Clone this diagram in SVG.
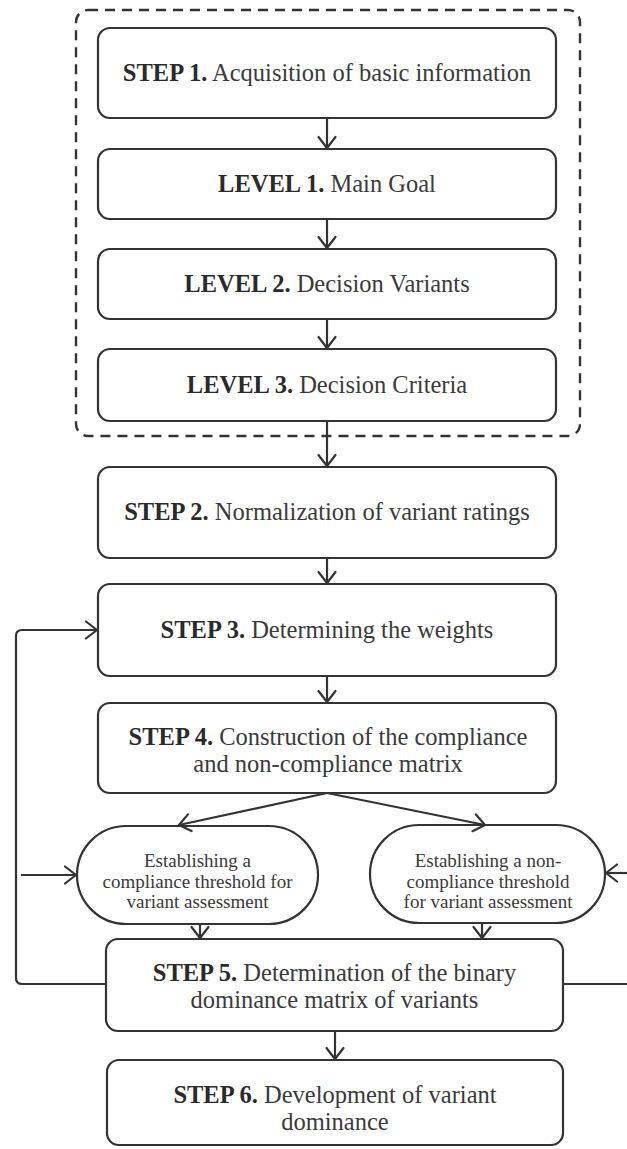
<svg xmlns="http://www.w3.org/2000/svg" width="627" height="1149" viewBox="0 0 627 1149">
<style>
.box{fill:#fff;stroke:#333;stroke-width:2.2}
.dash{fill:none;stroke:#333;stroke-width:2.4;stroke-dasharray:10 7}
.t{font-family:"Liberation Serif","Times New Roman",serif;font-size:24.5px;fill:#3a3a3a;text-anchor:middle}
.s{font-family:"Liberation Serif","Times New Roman",serif;font-size:19px;fill:#3a3a3a;text-anchor:middle}
.b{font-weight:bold;fill:#2a2a2a}
.c{fill:none;stroke:#333;stroke-width:2.2;stroke-linejoin:round}
</style>
<defs>
<marker id="arr" markerUnits="userSpaceOnUse" markerWidth="30" markerHeight="30" viewBox="-15 -15 30 30" refX="0" refY="0" orient="auto" overflow="visible">
<path d="M-11,-8.5 L0,0 L-11,8.5" fill="none" stroke="#333" stroke-width="2.2" stroke-linecap="round" stroke-linejoin="round"/>
</marker>
</defs>
<rect width="627" height="1149" fill="#fff"/>
<g id="group-basic">
<rect class="dash" x="76" y="10" width="504" height="426" rx="12"/>
</g>
<g id="step1"><rect class="box" x="98" y="28" width="458" height="90" rx="12"/>
<text class="t" x="327" y="81"><tspan class="b">STEP 1.</tspan> Acquisition of basic information</text></g>
<g id="level1"><rect class="box" x="98" y="149" width="458" height="70" rx="12"/>
<text class="t" x="327" y="192"><tspan class="b">LEVEL 1.</tspan> Main Goal</text></g>
<g id="level2"><rect class="box" x="98" y="249" width="458" height="70" rx="12"/>
<text class="t" x="327" y="292"><tspan class="b">LEVEL 2.</tspan> Decision Variants</text></g>
<g id="level3"><rect class="box" x="98" y="349" width="458" height="72" rx="12"/>
<text class="t" x="327" y="393"><tspan class="b">LEVEL 3.</tspan> Decision Criteria</text></g>
<g id="step2"><rect class="box" x="98" y="467" width="458" height="91" rx="12"/>
<text class="t" x="327" y="520"><tspan class="b">STEP 2.</tspan> Normalization of variant ratings</text></g>
<g id="step3"><rect class="box" x="98" y="584" width="458" height="92" rx="12"/>
<text class="t" x="327" y="638"><tspan class="b">STEP 3.</tspan> Determining the weights</text></g>
<g id="step4"><rect class="box" x="98" y="703" width="458" height="90" rx="12"/>
<text class="t" x="328" y="745"><tspan class="b">STEP 4.</tspan> Construction of the compliance</text>
<text class="t" x="328" y="772">and non-compliance matrix</text></g>
<g id="threshold-compliance"><rect class="box" x="77" y="826" width="241" height="98" rx="49"/>
<text class="s" x="197.5" y="867">Establishing a</text>
<text class="s" x="197.5" y="887.5">compliance threshold for</text>
<text class="s" x="197.5" y="908">variant assessment</text></g>
<g id="threshold-noncompliance"><rect class="box" x="370" y="825" width="235" height="98" rx="49"/>
<text class="s" x="488" y="867">Establishing a non-</text>
<text class="s" x="488" y="887.5">compliance threshold</text>
<text class="s" x="488" y="908">for variant assessment</text></g>
<g id="step5"><rect class="box" x="106" y="939" width="457" height="92" rx="12"/>
<text class="t" x="334.5" y="981"><tspan class="b">STEP 5.</tspan> Determination of the binary</text>
<text class="t" x="334.5" y="1008">dominance matrix of variants</text></g>
<g id="step6"><rect class="box" x="107" y="1060" width="456" height="85" rx="12"/>
<text class="t" x="335" y="1103"><tspan class="b">STEP 6.</tspan> Development of variant</text>
<text class="t" x="335" y="1130">dominance</text></g>
<g id="connectors">
<line class="c" x1="327" y1="118" x2="327" y2="148" marker-end="url(#arr)"/>
<line class="c" x1="327" y1="219" x2="327" y2="248" marker-end="url(#arr)"/>
<line class="c" x1="327" y1="319" x2="327" y2="348" marker-end="url(#arr)"/>
<line class="c" x1="327" y1="421" x2="327" y2="466" marker-end="url(#arr)"/>
<line class="c" x1="327" y1="558" x2="327" y2="583" marker-end="url(#arr)"/>
<line class="c" x1="327" y1="676" x2="327" y2="702" marker-end="url(#arr)"/>
<line class="c" x1="327" y1="793" x2="179" y2="825" marker-end="url(#arr)"/>
<line class="c" x1="327" y1="793" x2="485" y2="825" marker-end="url(#arr)"/>
<line class="c" x1="200" y1="924" x2="200" y2="938" marker-end="url(#arr)"/>
<line class="c" x1="482" y1="923" x2="482" y2="938" marker-end="url(#arr)"/>
<line class="c" x1="335" y1="1031" x2="335" y2="1059" marker-end="url(#arr)"/>
<path class="c" d="M106,984 H22 Q16,984 16,978 V636 Q16,630 22,630 H97" marker-end="url(#arr)"/>
<line class="c" x1="21" y1="875" x2="76" y2="875" marker-end="url(#arr)"/>
<line class="c" x1="627" y1="873" x2="606" y2="873" marker-end="url(#arr)"/>
<line class="c" x1="563" y1="984" x2="627" y2="984"/>
</g>
</svg>
